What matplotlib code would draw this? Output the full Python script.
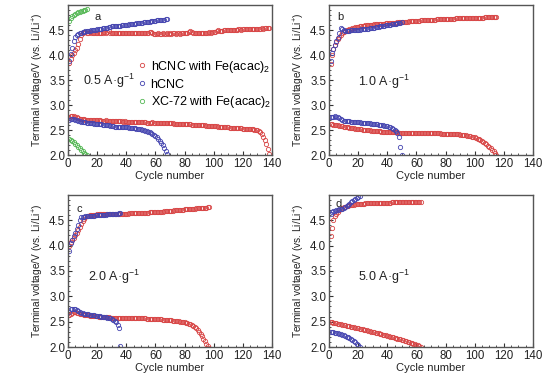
import matplotlib
matplotlib.use("Agg")
import matplotlib.pyplot as plt
from matplotlib.ticker import MultipleLocator

plt.rcParams['font.family'] = ['Liberation Sans', 'DejaVu Sans']
plt.rcParams['mathtext.fontset'] = 'custom'
plt.rcParams['mathtext.rm'] = 'Liberation Sans'

# ---------- panel a : 0.5 A/g ----------
a_red_chg = [3.85, 3.92, 4.00, 4.05, 4.10, 4.15, 4.22, 4.32, 4.40, 4.45,
             4.46, 4.46, 4.45, 4.45, 4.46, 4.45, 4.45, 4.44, 4.45, 4.45,
             4.45, 4.44, 4.45, 4.45, 4.46, 4.45, 4.47, 4.48, 4.45, 4.44,
             4.45, 4.44, 4.45, 4.45, 4.44, 4.45, 4.45, 4.44, 4.45, 4.45,
             4.44, 4.45, 4.45, 4.44, 4.45, 4.44, 4.44, 4.45, 4.44, 4.45,
             4.44, 4.45, 4.44, 4.44, 4.45, 4.46, 4.47, 4.44, 4.43, 4.43,
             4.43, 4.44, 4.43, 4.43, 4.44, 4.43, 4.43, 4.44, 4.43, 4.44,
             4.43, 4.44, 4.44, 4.43, 4.44, 4.44, 4.43, 4.44, 4.44, 4.45,
             4.44, 4.45, 4.47, 4.48, 4.46, 4.45, 4.45, 4.44, 4.45, 4.45,
             4.45, 4.45, 4.44, 4.45, 4.45, 4.45, 4.46, 4.45, 4.46, 4.46,
             4.47, 4.49, 4.50, 4.49, 4.49, 4.49, 4.50, 4.50, 4.50, 4.50,
             4.51, 4.50, 4.51, 4.51, 4.51, 4.51, 4.52, 4.52, 4.51, 4.52,
             4.52, 4.52, 4.52, 4.53, 4.52, 4.53, 4.53, 4.52, 4.53, 4.53,
             4.53, 4.53, 4.54, 4.53, 4.54, 4.54, 4.55, 4.55]
a_red_dis = [2.75, 2.78, 2.79, 2.78, 2.77, 2.76, 2.74, 2.73, 2.72, 2.72,
             2.72, 2.71, 2.71, 2.71, 2.71, 2.70, 2.70, 2.70, 2.70, 2.70,
             2.70, 2.70, 2.69, 2.69, 2.69, 2.70, 2.69, 2.69, 2.69, 2.69,
             2.69, 2.68, 2.68, 2.68, 2.68, 2.68, 2.68, 2.67, 2.68, 2.67,
             2.67, 2.67, 2.67, 2.67, 2.67, 2.67, 2.66, 2.66, 2.66, 2.66,
             2.66, 2.66, 2.66, 2.65, 2.65, 2.65, 2.65, 2.66, 2.65, 2.65,
             2.65, 2.65, 2.65, 2.65, 2.64, 2.64, 2.64, 2.64, 2.64, 2.64,
             2.64, 2.64, 2.63, 2.63, 2.63, 2.63, 2.63, 2.63, 2.62, 2.62,
             2.62, 2.62, 2.62, 2.62, 2.61, 2.61, 2.61, 2.61, 2.61, 2.60,
             2.60, 2.60, 2.60, 2.60, 2.59, 2.59, 2.59, 2.59, 2.58, 2.58,
             2.58, 2.58, 2.57, 2.57, 2.57, 2.57, 2.56, 2.56, 2.56, 2.56,
             2.55, 2.55, 2.55, 2.55, 2.54, 2.54, 2.54, 2.54, 2.54, 2.53,
             2.53, 2.53, 2.53, 2.53, 2.52, 2.52, 2.52, 2.51, 2.51, 2.50,
             2.48, 2.46, 2.42, 2.37, 2.30, 2.22, 2.13, 2.02]
a_blue_chg = [3.88, 4.02, 4.15, 4.28, 4.36, 4.40, 4.42, 4.44, 4.45, 4.46,
              4.47, 4.48, 4.48, 4.49, 4.49, 4.50, 4.50, 4.51, 4.51, 4.52,
              4.52, 4.53, 4.53, 4.54, 4.54, 4.55, 4.55, 4.56, 4.57, 4.58,
              4.59, 4.59, 4.58, 4.58, 4.59, 4.59, 4.60, 4.60, 4.60, 4.61,
              4.61, 4.62, 4.62, 4.62, 4.63, 4.63, 4.64, 4.64, 4.64, 4.65,
              4.65, 4.66, 4.66, 4.66, 4.67, 4.67, 4.68, 4.68, 4.69, 4.69,
              4.70, 4.70, 4.70, 4.71, 4.71, 4.71, 4.72, 4.72]
a_blue_dis = [2.70, 2.72, 2.73, 2.72, 2.71, 2.70, 2.69, 2.68, 2.67, 2.67,
              2.66, 2.66, 2.65, 2.65, 2.64, 2.64, 2.64, 2.63, 2.63, 2.63,
              2.62, 2.62, 2.62, 2.61, 2.61, 2.61, 2.60, 2.60, 2.59, 2.58,
              2.58, 2.57, 2.57, 2.57, 2.57, 2.57, 2.57, 2.57, 2.56, 2.56,
              2.56, 2.55, 2.55, 2.55, 2.54, 2.54, 2.53, 2.53, 2.52, 2.52,
              2.51, 2.50, 2.49, 2.48, 2.47, 2.46, 2.45, 2.43, 2.41, 2.39,
              2.36, 2.33, 2.29, 2.25, 2.20, 2.14, 2.08, 2.02]
a_green_chg = [4.68, 4.75, 4.78, 4.81, 4.83, 4.85, 4.86, 4.87, 4.88, 4.89,
               4.90, 4.91, 4.92]
a_green_dis = [2.33, 2.31, 2.29, 2.26, 2.23, 2.20, 2.17, 2.14, 2.11, 2.08,
               2.05, 2.02, 2.00]

# ---------- panel b : 1.0 A/g ----------
b_red_chg = [3.82, 4.00, 4.12, 4.20, 4.27, 4.33, 4.37, 4.41, 4.44, 4.46,
             4.48, 4.50, 4.51, 4.52, 4.53, 4.54, 4.55, 4.56, 4.57, 4.57,
             4.58, 4.58, 4.59, 4.59, 4.60, 4.60, 4.60, 4.61, 4.61, 4.61,
             4.62, 4.62, 4.62, 4.62, 4.63, 4.63, 4.63, 4.63, 4.64, 4.64,
             4.64, 4.64, 4.65, 4.65, 4.65, 4.65, 4.66, 4.66, 4.66, 4.66,
             4.67, 4.67, 4.67, 4.67, 4.68, 4.68, 4.68, 4.68, 4.69, 4.69,
             4.69, 4.69, 4.70, 4.70, 4.70, 4.70, 4.70, 4.71, 4.71, 4.71,
             4.71, 4.71, 4.71, 4.72, 4.72, 4.72, 4.72, 4.72, 4.72, 4.73,
             4.73, 4.73, 4.73, 4.73, 4.73, 4.73, 4.74, 4.74, 4.74, 4.74,
             4.74, 4.74, 4.74, 4.74, 4.74, 4.75, 4.75, 4.75, 4.75, 4.75,
             4.75, 4.75, 4.75, 4.75, 4.75, 4.75, 4.76, 4.76, 4.76, 4.76,
             4.76, 4.76, 4.76, 4.76, 4.76]
b_red_dis = [2.62, 2.62, 2.61, 2.61, 2.60, 2.60, 2.59, 2.58, 2.58, 2.57,
             2.57, 2.56, 2.56, 2.55, 2.55, 2.54, 2.54, 2.53, 2.53, 2.52,
             2.52, 2.52, 2.51, 2.51, 2.51, 2.50, 2.50, 2.50, 2.49, 2.49,
             2.49, 2.48, 2.48, 2.48, 2.48, 2.47, 2.47, 2.47, 2.47, 2.47,
             2.46, 2.46, 2.46, 2.46, 2.46, 2.46, 2.46, 2.45, 2.45, 2.45,
             2.45, 2.45, 2.45, 2.45, 2.45, 2.45, 2.45, 2.45, 2.44, 2.44,
             2.44, 2.44, 2.44, 2.44, 2.44, 2.44, 2.44, 2.44, 2.44, 2.44,
             2.44, 2.44, 2.44, 2.44, 2.44, 2.44, 2.43, 2.43, 2.43, 2.43,
             2.43, 2.43, 2.43, 2.43, 2.43, 2.42, 2.42, 2.42, 2.42, 2.41,
             2.41, 2.41, 2.40, 2.40, 2.39, 2.39, 2.38, 2.37, 2.37, 2.36,
             2.35, 2.33, 2.32, 2.30, 2.28, 2.26, 2.24, 2.22, 2.19, 2.17,
             2.14, 2.11, 2.08, 2.05, 2.01]
b_blue_chg = [3.88, 4.05, 4.12, 4.20, 4.28, 4.35, 4.45, 4.55, 4.53, 4.50,
              4.49, 4.49, 4.49, 4.49, 4.50, 4.50, 4.50, 4.50, 4.51, 4.51,
              4.51, 4.52, 4.52, 4.52, 4.53, 4.53, 4.53, 4.54, 4.54, 4.55,
              4.55, 4.56, 4.56, 4.57, 4.58, 4.58, 4.59, 4.59, 4.60, 4.60,
              4.61, 4.61, 4.62, 4.62, 4.63, 4.63, 4.64, 4.64, 4.65, 4.66]
b_blue_dis = [2.76, 2.77, 2.77, 2.78, 2.77, 2.77, 2.75, 2.72, 2.70, 2.69,
              2.69, 2.68, 2.68, 2.68, 2.67, 2.67, 2.67, 2.66, 2.66, 2.66,
              2.66, 2.65, 2.65, 2.65, 2.65, 2.64, 2.64, 2.64, 2.63, 2.63,
              2.63, 2.62, 2.62, 2.61, 2.61, 2.60, 2.60, 2.59, 2.59, 2.58,
              2.57, 2.56, 2.55, 2.53, 2.51, 2.48, 2.44, 2.37, 2.17, 2.01]

# ---------- panel c : 2.0 A/g ----------
c_red_chg = [4.00, 4.08, 4.12, 4.16, 4.20, 4.25, 4.30, 4.36, 4.42, 4.48,
             4.53, 4.56, 4.58, 4.59, 4.60, 4.60, 4.61, 4.61, 4.61, 4.62,
             4.62, 4.62, 4.62, 4.63, 4.63, 4.63, 4.63, 4.63, 4.63, 4.63,
             4.63, 4.63, 4.63, 4.63, 4.63, 4.63, 4.63, 4.63, 4.63, 4.63,
             4.63, 4.64, 4.64, 4.64, 4.64, 4.64, 4.64, 4.64, 4.64, 4.65,
             4.65, 4.65, 4.65, 4.65, 4.65, 4.66, 4.66, 4.66, 4.66, 4.66,
             4.66, 4.67, 4.67, 4.67, 4.67, 4.68, 4.68, 4.68, 4.68, 4.69,
             4.69, 4.69, 4.70, 4.70, 4.70, 4.70, 4.71, 4.71, 4.71, 4.72,
             4.72, 4.72, 4.72, 4.73, 4.73, 4.73, 4.73, 4.74, 4.74, 4.74,
             4.74, 4.75, 4.75, 4.75, 4.75, 4.76, 4.76]
c_red_dis = [2.63, 2.66, 2.68, 2.69, 2.69, 2.68, 2.67, 2.66, 2.65, 2.65,
             2.64, 2.64, 2.63, 2.63, 2.62, 2.62, 2.62, 2.61, 2.61, 2.61,
             2.60, 2.60, 2.60, 2.60, 2.59, 2.59, 2.59, 2.59, 2.58, 2.58,
             2.58, 2.58, 2.58, 2.58, 2.58, 2.58, 2.58, 2.58, 2.58, 2.58,
             2.58, 2.58, 2.57, 2.57, 2.57, 2.57, 2.57, 2.57, 2.57, 2.57,
             2.57, 2.57, 2.57, 2.56, 2.56, 2.56, 2.56, 2.56, 2.56, 2.55,
             2.55, 2.55, 2.55, 2.55, 2.54, 2.54, 2.54, 2.54, 2.53, 2.53,
             2.53, 2.52, 2.52, 2.52, 2.51, 2.51, 2.50, 2.50, 2.49, 2.49,
             2.48, 2.47, 2.46, 2.45, 2.44, 2.42, 2.40, 2.37, 2.34, 2.30,
             2.26, 2.21, 2.16, 2.11, 2.06, 2.02, 1.99]
c_blue_chg = [3.90, 4.05, 4.12, 4.18, 4.25, 4.32, 4.40, 4.50, 4.56, 4.57,
              4.57, 4.58, 4.58, 4.58, 4.59, 4.59, 4.59, 4.59, 4.60, 4.60,
              4.60, 4.60, 4.61, 4.61, 4.61, 4.61, 4.62, 4.62, 4.62, 4.62,
              4.62, 4.63, 4.63, 4.63, 4.64, 4.64]
c_blue_dis = [2.70, 2.74, 2.75, 2.75, 2.74, 2.73, 2.72, 2.70, 2.68, 2.67,
              2.66, 2.66, 2.65, 2.65, 2.64, 2.64, 2.63, 2.63, 2.62, 2.62,
              2.61, 2.61, 2.60, 2.60, 2.59, 2.59, 2.58, 2.58, 2.57, 2.56,
              2.54, 2.52, 2.49, 2.44, 2.38, 2.02]

# ---------- panel d : 5.0 A/g ----------
d_red_chg = [4.18, 4.35, 4.50, 4.58, 4.63, 4.67, 4.70, 4.73, 4.75, 4.76,
             4.77, 4.78, 4.79, 4.80, 4.80, 4.81, 4.81, 4.82, 4.82, 4.82,
             4.83, 4.83, 4.83, 4.83, 4.84, 4.84, 4.84, 4.84, 4.84, 4.84,
             4.85, 4.85, 4.85, 4.85, 4.85, 4.85, 4.85, 4.85, 4.85, 4.85,
             4.85, 4.85, 4.86, 4.86, 4.86, 4.86, 4.86, 4.86, 4.86, 4.86,
             4.86, 4.86, 4.86, 4.86, 4.86, 4.86, 4.86, 4.86, 4.86, 4.86,
             4.86, 4.86, 4.86]
d_red_dis = [2.50, 2.49, 2.48, 2.48, 2.47, 2.46, 2.46, 2.45, 2.44, 2.44,
             2.43, 2.42, 2.42, 2.41, 2.40, 2.40, 2.39, 2.38, 2.38, 2.37,
             2.36, 2.35, 2.35, 2.34, 2.33, 2.33, 2.32, 2.31, 2.30, 2.30,
             2.29, 2.28, 2.27, 2.27, 2.26, 2.25, 2.24, 2.24, 2.23, 2.22,
             2.21, 2.20, 2.20, 2.19, 2.18, 2.17, 2.16, 2.15, 2.15, 2.14,
             2.13, 2.12, 2.11, 2.10, 2.09, 2.08, 2.07, 2.06, 2.05, 2.04,
             2.03, 2.02, 2.01]
d_blue_chg = [4.63, 4.66, 4.68, 4.69, 4.70, 4.71, 4.72, 4.72, 4.73, 4.74,
              4.76, 4.78, 4.80, 4.83, 4.86, 4.88, 4.90, 4.92, 4.94, 4.96,
              4.98]
d_blue_dis = [2.30, 2.29, 2.29, 2.28, 2.28, 2.27, 2.26, 2.25, 2.24, 2.23,
              2.22, 2.20, 2.19, 2.17, 2.15, 2.13, 2.11, 2.09, 2.06, 2.03,
              2.00]

labels = ['hCNC with Fe(acac)$_2$', 'hCNC', 'XC-72 with Fe(acac)$_2$']
RED, BLUE, GREEN = '#d84545', '#4545b0', '#55b855'

panels = [
    ('a', '0.5 A·g$^{-1}$', (10, 3.48),
     [(a_red_chg, a_red_dis, RED), (a_blue_chg, a_blue_dis, BLUE), (a_green_chg, a_green_dis, GREEN)]),
    ('b', '1.0 A·g$^{-1}$', (20, 3.46),
     [(b_red_chg, b_red_dis, RED), (b_blue_chg, b_blue_dis, BLUE)]),
    ('c', '2.0 A·g$^{-1}$', (14, 3.38),
     [(c_red_chg, c_red_dis, RED), (c_blue_chg, c_blue_dis, BLUE)]),
    ('d', '5.0 A·g$^{-1}$', (20, 3.38),
     [(d_red_chg, d_red_dis, RED), (d_blue_chg, d_blue_dis, BLUE)]),
]

rects = [[0.1225, 0.598, 0.3675, 0.389],
         [0.593, 0.598, 0.367, 0.389],
         [0.1225, 0.101, 0.3675, 0.394],
         [0.593, 0.101, 0.367, 0.394]]
letter_pos = {'a': (0.13, 0.955), 'b': (0.04, 0.955), 'c': (0.04, 0.94), 'd': (0.03, 0.975)}

fig = plt.figure(figsize=(5.55, 3.86), dpi=100)
for rect, (letter, rate, pos, series) in zip(rects, panels):
    ax = fig.add_axes(rect)
    handles = []
    for chg, dis, col in series:
        kw = dict(ls='none', marker='o', ms=3.1, mfc='none', mec=col, mew=0.6)
        h, = ax.plot(range(1, len(chg) + 1), chg, **kw)
        ax.plot(range(1, len(dis) + 1), dis, **kw)
        handles.append(h)
    ax.set_xlim(0, 140)
    ax.set_ylim(2.0, 5.0)
    ax.xaxis.set_major_locator(MultipleLocator(20))
    ax.xaxis.set_minor_locator(MultipleLocator(5))
    ax.set_yticks([2.0, 2.5, 3.0, 3.5, 4.0, 4.5])
    ax.set_yticklabels(['2.0', '2.5', '3.0', '3.5', '4.0', '4.5'])
    ax.yaxis.set_minor_locator(MultipleLocator(0.1))
    ax.tick_params(which='both', direction='in', colors='#333333', labelsize=8.3, pad=2)
    ax.tick_params(which='major', length=3)
    ax.tick_params(which='minor', length=1.5)
    ax.tick_params(axis='both', labelcolor='#222222')
    for s in ax.spines.values():
        s.set_color('#555555')
        s.set_linewidth(1.0)
    ax.set_xlabel('Cycle number', fontsize=8, color='#222222', labelpad=1)
    ax.set_ylabel('Terminal voltage/V (vs. Li/Li$^{+}$)', fontsize=7.3, color='#222222', labelpad=2)
    ax.text(letter_pos[letter][0], letter_pos[letter][1], letter, transform=ax.transAxes,
            ha='left', va='top', fontsize=8, color='#222222')
    ax.text(pos[0], pos[1], rate, fontsize=9, ha='left', va='center', color='#222222')
    if letter == 'a':
        ax.legend(handles, labels, loc='center left', bbox_to_anchor=(0.31, 0.47),
                  frameon=False, fontsize=9, handlelength=0.6, handletextpad=0.35,
                  borderpad=0.1, labelspacing=0.3, markerscale=1.0)

fig.savefig('out.png', dpi=100)
